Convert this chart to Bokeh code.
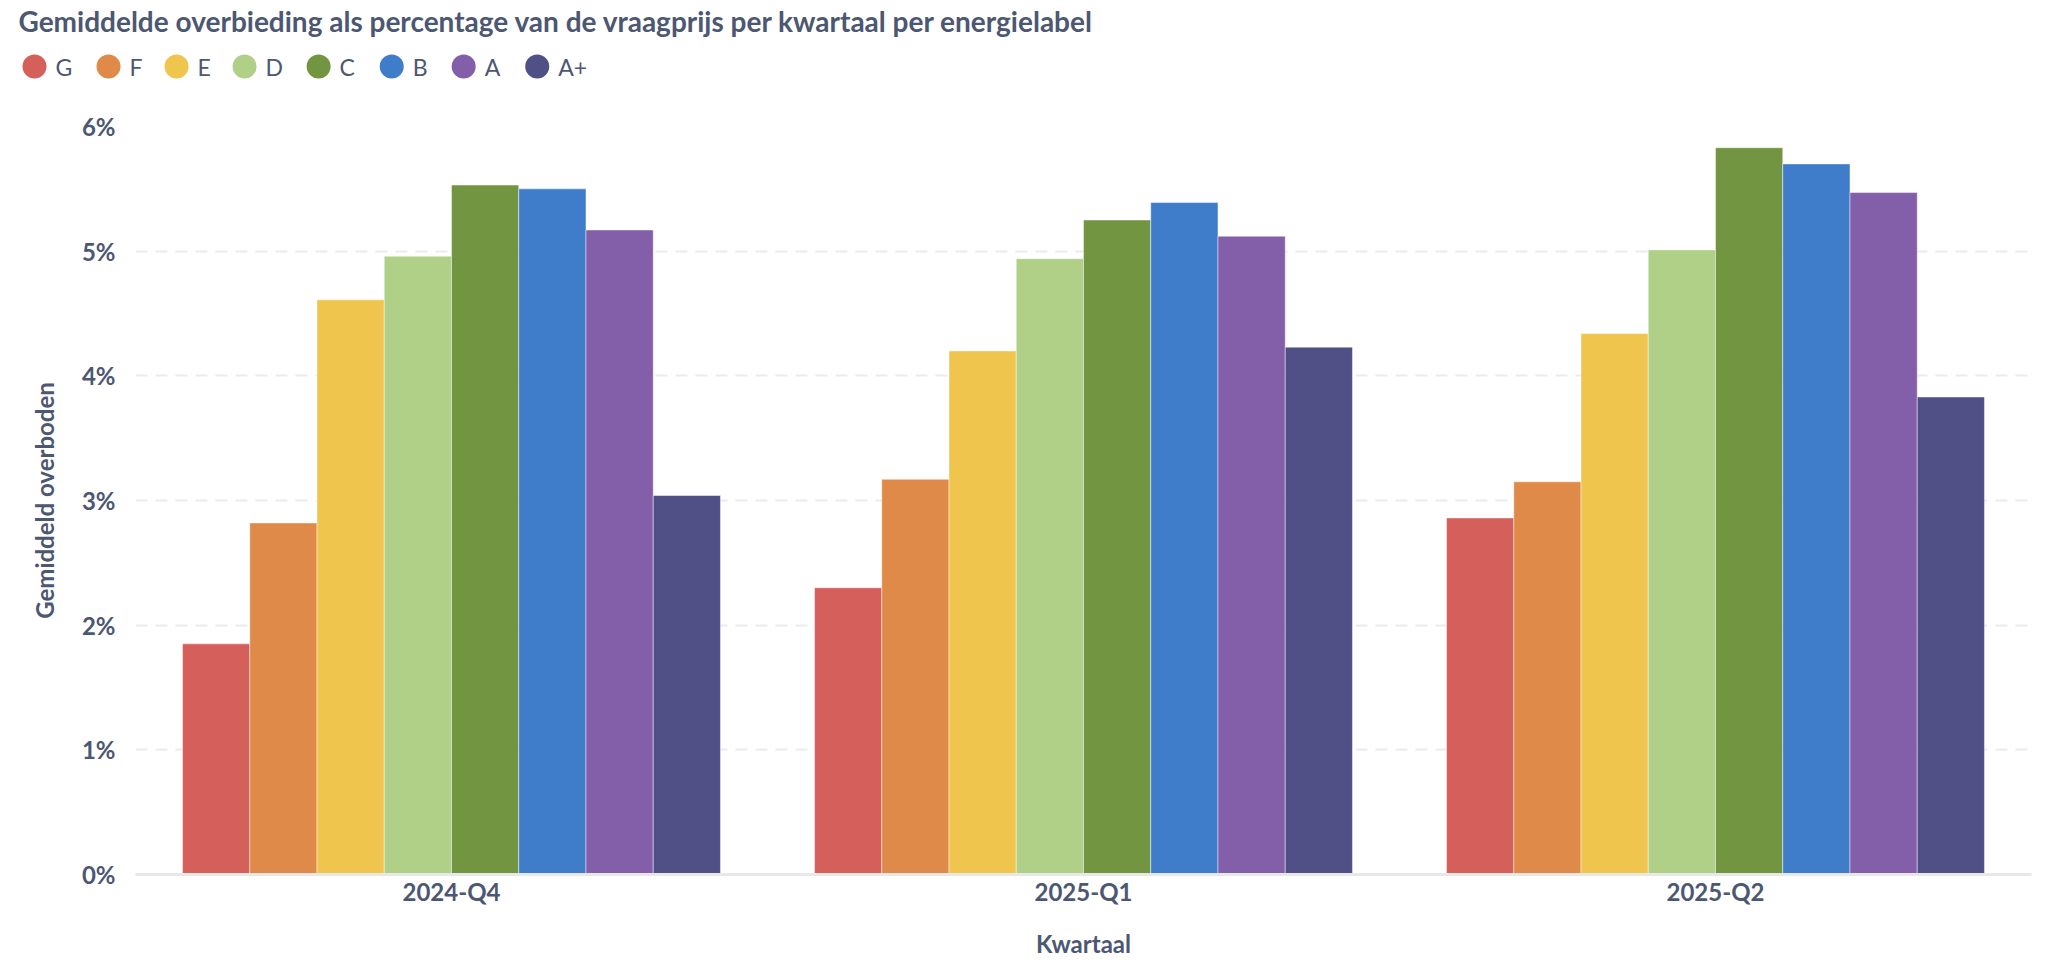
from bokeh.plotting import figure
from bokeh.models import (ColumnDataSource, FactorRange, Range1d,
                          PrintfTickFormatter, FixedTicker)
from bokeh.core.properties import value
from bokeh.transform import dodge
from bokeh.layouts import column, row
from bokeh.embed import file_html
from bokeh.resources import INLINE

# data (percent overbidding per quarter and energy label)
quarters = ["2024-Q4", "2025-Q1", "2025-Q2"]
labels = ["G", "F", "E", "D", "C", "B", "A", "A+"]
colors = ["#d55f5b", "#df8a49", "#f0c54e", "#b0cf87",
          "#729542", "#3f7dcb", "#845fa9", "#505087"]

g = [1.85, 2.30, 2.86]
f = [2.82, 3.17, 3.15]
e = [4.61, 4.20, 4.34]
d = [4.96, 4.94, 5.01]
c = [5.53, 5.25, 5.83]
b = [5.50, 5.39, 5.70]
a = [5.17, 5.12, 5.47]
a_plus = [3.04, 4.23, 3.83]

y_ticks = [0, 1, 2, 3, 4, 5, 6]

title = "Gemiddelde overbieding als percentage van de vraagprijs per kwartaal per energielabel"
text_color = "#4c5773"
font = "Lato"

series = [g, f, e, d, c, b, a, a_plus]
data = {"quarter": quarters}
for lab, vals in zip(labels, series):
    data[lab] = vals
source = ColumnDataSource(data)

# ---- header: title + legend, drawn in a pixel-unit figure ----
HW, HH = 2050, 100
hp = figure(width=HW, height=HH, x_range=Range1d(0, HW), y_range=Range1d(HH, 0),
            output_backend="svg", toolbar_location=None, min_border=0,
            x_axis_location=None, y_axis_location=None, title_location=None)
hp.grid.visible = False
hp.outline_line_color = None

hp.text(x=[18], y=[20], text=[title], text_font=value(font),
        text_font_size="28px", text_font_style="bold", text_color=text_color,
        text_baseline="alphabetic", text_align="left")

# approximate Lato advance widths (em) to lay the legend out in one row
em = {"G": 0.74, "F": 0.48, "E": 0.48, "D": 0.74, "C": 0.70, "B": 0.65,
      "A": 0.72, "+": 0.55}
label_px = 23
dot = 24
standoff = 9
gap = 24
dot_x, text_x = [], []
x = 22
for lab in labels:
    dot_x.append(x + dot / 2)
    text_x.append(x + dot + standoff)
    x = text_x[-1] + sum(em[ch] for ch in lab) * label_px + gap

legend_y = 66
hp.scatter(x=dot_x, y=[legend_y] * len(labels), marker="circle", size=dot,
           fill_color=colors, line_color=None)
hp.text(x=text_x, y=[legend_y] * len(labels), text=labels, text_font=value(font),
        text_font_size=f"{label_px}px", text_color=text_color,
        text_baseline="middle", text_align="left")

# ---- main chart ----
p = figure(x_range=FactorRange(*quarters), y_range=Range1d(0, 6),
           width=2050, height=864, output_backend="svg", toolbar_location=None,
           min_border_left=135, min_border_right=19, min_border_top=26,
           min_border_bottom=90)
p.outline_line_color = None

bw = 0.1064
for i, (lab, col) in enumerate(zip(labels, colors)):
    p.vbar(x=dodge("quarter", (i - 3.5) * bw, range=p.x_range), top=lab, width=bw,
           bottom=0, source=source, fill_color=col, line_color="white",
           line_alpha=0.45, line_width=1)

p.xgrid.grid_line_color = None
p.ygrid.grid_line_color = "#ebebeb"
p.ygrid.grid_line_width = 2
p.ygrid.grid_line_dash = "12 8"
p.ygrid.ticker = FixedTicker(ticks=y_ticks)

p.yaxis.ticker = FixedTicker(ticks=y_ticks)
p.yaxis.formatter = PrintfTickFormatter(format="%d%%")
p.yaxis.axis_line_color = None
p.yaxis.major_label_standoff = 20
p.yaxis.axis_label = "Gemiddeld overboden"
p.yaxis.axis_label_standoff = 20

p.xaxis.axis_line_color = "#e8e8e8"
p.xaxis.axis_line_width = 3
p.xaxis.major_label_standoff = 2
p.xaxis.axis_label = "Kwartaal"
p.xaxis.axis_label_standoff = 20

for ax in (p.xaxis[0], p.yaxis[0]):
    ax.major_tick_line_color = None
    ax.minor_tick_line_color = None
    ax.major_tick_out = 0
    ax.minor_tick_out = 0
    ax.major_label_text_font = font
    ax.major_label_text_font_size = "24px"
    ax.major_label_text_font_style = "bold"
    ax.major_label_text_color = text_color
    ax.axis_label_text_font = font
    ax.axis_label_text_font_size = "24px"
    ax.axis_label_text_font_style = "bold"
    ax.axis_label_text_color = text_color

# the row wrapper keeps the header frame from being aligned with the chart frame
layout = column(row(hp), p)
open("out.html", "w").write(file_html(layout, INLINE))
